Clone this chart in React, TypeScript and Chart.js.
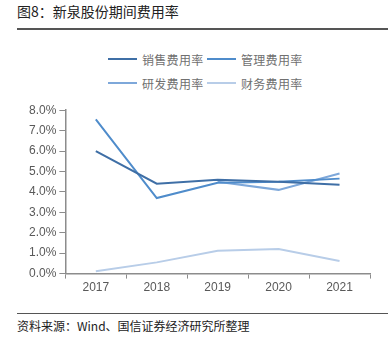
import React, { useEffect, useRef } from "react";
import { Chart, registerables } from "chart.js";

Chart.register(...registerables);

const years = ["2017", "2018", "2019", "2020", "2021"];
const salesRate = [6.0, 4.4, 4.6, 4.5, 4.35];
const mgmtRate = [7.55, 3.7, 4.45, 4.5, 4.65];
const rdRate = [null, null, 4.5, 4.1, 4.9];
const finRate = [0.12, 0.55, 1.12, 1.2, 0.62];
const seriesNames = ["销售费用率", "管理费用率", "研发费用率", "财务费用率"];
const seriesColors = ["#3f6fa6", "#4f8ccb", "#7ea8da", "#b8cde8"];
const yTicks = [0, 1, 2, 3, 4, 5, 6, 7, 8];

export default function App() {
  const ref = useRef<HTMLCanvasElement | null>(null);
  useEffect(() => {
    if (!ref.current) return;
    const values = [salesRate, mgmtRate, rdRate, finRate];
    const chart = new Chart(ref.current, {
      type: "line",
      data: {
        labels: years,
        datasets: seriesNames.map((n, i) => ({
          label: n,
          data: values[i] as any,
          borderColor: seriesColors[i],
          backgroundColor: seriesColors[i],
          borderWidth: 2,
          pointRadius: 0,
          tension: 0,
          spanGaps: false,
        })),
      },
      options: {
        animation: false,
        responsive: false,
        maintainAspectRatio: false,
        layout: { padding: { left: 26, right: 22, top: 10, bottom: 3 } },
        plugins: { legend: { display: false }, tooltip: { enabled: false } },
        scales: {
          x: {
            offset: true,
            grid: {
              offset: true,
              drawOnChartArea: false,
              drawTicks: true,
              tickLength: 5,
              color: "#8c8c8c",
            },
            border: { color: "#8c8c8c", width: 1.5 },
            ticks: {
              color: "#595959",
              font: { family: "Liberation Sans", size: 12 },
              padding: 2,
            },
          },
          y: {
            min: yTicks[0],
            max: yTicks[yTicks.length - 1],
            afterBuildTicks: (s: any) => {
              s.ticks = yTicks.map((v) => ({ value: v }));
            },
            grid: {
              drawOnChartArea: false,
              drawTicks: true,
              tickLength: 6,
              color: "#8c8c8c",
            },
            border: { color: "#8c8c8c", width: 1.5 },
            ticks: {
              color: "#595959",
              font: { family: "Liberation Sans", size: 12 },
              padding: 3,
              callback: (v: any) => Number(v).toFixed(1) + "%",
            },
          },
        },
      },
    });
    return () => chart.destroy();
  }, []);

  const cjk = '"Noto Sans CJK SC", sans-serif';
  return (
    <div style={{ position: "absolute", left: 0, top: 0, width: 392, height: 343, background: "#fff", overflow: "hidden" }}>
      <div style={{ position: "absolute", left: 17, top: 1, fontFamily: cjk, fontSize: 14, color: "#222", whiteSpace: "nowrap", lineHeight: "20px" }}>
        图8：新泉股份期间费用率
      </div>
      <div style={{ position: "absolute", left: 17, top: 28, width: 371, height: 1.5, background: "#555" }} />
      <div style={{ position: "absolute", left: 108, top: 50, width: 200, display: "flex", flexWrap: "wrap", rowGap: 6 }}>
        {seriesNames.map((n, i) => (
          <div key={n} style={{ display: "flex", alignItems: "center", width: 99, height: 18 }}>
            <div style={{ width: 29, height: 2, background: seriesColors[i], marginRight: 5 }} />
            <span style={{ fontFamily: cjk, fontSize: 12, color: "#707070", letterSpacing: 0.3 }}>{n}</span>
          </div>
        ))}
      </div>
      <canvas ref={ref} width={392} height={200} style={{ position: "absolute", left: 0, top: 100, width: 392, height: 200 }} />
      <div style={{ position: "absolute", left: 17, top: 313, width: 371, height: 1, background: "#555" }} />
      <div style={{ position: "absolute", left: 17, top: 317, fontFamily: cjk, fontSize: 12, color: "#222", whiteSpace: "nowrap", lineHeight: "18px" }}>
        资料来源：Wind、国信证券经济研究所整理
      </div>
    </div>
  );
}
